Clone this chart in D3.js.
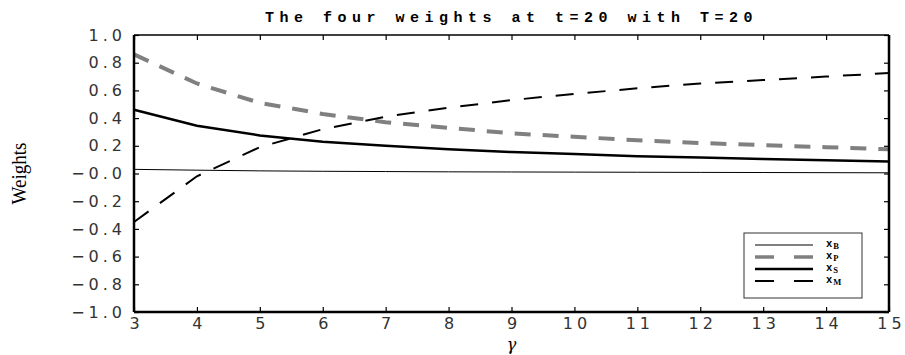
<!DOCTYPE html>
<html>
<head>
<meta charset="utf-8">
<script src="https://cdn.jsdelivr.net/npm/d3@7"></script>
<style>
  body { margin: 0; background: #fff; }
  .tick text { font-family: "DejaVu Sans", sans-serif; font-size: 16px; fill: #333; letter-spacing: 4px; }
</style>
</head>
<body>
<svg id="chart" width="905" height="355"></svg>
<script>
// gamma values along the x axis
const gammas = [3, 4, 5, 6, 7, 8, 9, 10, 11, 12, 13, 14, 15];

// weights
const xB = [0.03, 0.024, 0.019, 0.016, 0.014, 0.012, 0.011, 0.010, 0.009, 0.008, 0.007, 0.006, 0.005];
const xP = [0.86, 0.65, 0.51, 0.43, 0.37, 0.33, 0.29, 0.265, 0.24, 0.22, 0.205, 0.19, 0.175];
const xS = [0.46, 0.345, 0.275, 0.23, 0.20, 0.175, 0.155, 0.14, 0.125, 0.115, 0.105, 0.095, 0.087];
const xM = [-0.35, -0.02, 0.19, 0.32, 0.41, 0.475, 0.53, 0.575, 0.615, 0.65, 0.675, 0.70, 0.725];

const yTicks = [1.0, 0.8, 0.6, 0.4, 0.2, 0.0, -0.2, -0.4, -0.6, -0.8, -1.0];

const series = [
  { name: "B", values: xB, color: "#000", width: 1, dash: null },
  { name: "P", values: xP, color: "#808080", width: 4, dash: "16,12" },
  { name: "S", values: xS, color: "#000", width: 2.5, dash: null },
  { name: "M", values: xM, color: "#000", width: 2, dash: "18,14" }
];

const margin = {top: 35, right: 16, bottom: 43, left: 134};
const width = 905 - margin.left - margin.right;
const height = 355 - margin.top - margin.bottom;

const svg = d3.select("#chart");
const g = svg.append("g").attr("transform", `translate(${margin.left},${margin.top})`);

const x = d3.scaleLinear().domain([3, 15]).range([0, width]);
const y = d3.scaleLinear().domain([-1, 1]).range([height, 0]);

// the zero tick carries a minus sign in the original
const fmtY = d => (d <= 0 ? "\u2212" : "") + Math.abs(d).toFixed(1);

g.append("g")
  .attr("transform", `translate(0,${height})`)
  .call(d3.axisBottom(x).tickValues(gammas).tickSize(-5).tickPadding(6).tickFormat(d3.format("d")))
  .call(a => a.select(".domain").remove())
  .call(a => a.selectAll(".tick line").attr("stroke", "#000").attr("stroke-width", 1.2))
  .call(a => a.selectAll(".tick text").attr("dx", 2));

g.append("g")
  .call(d3.axisTop(x).tickValues(gammas).tickSize(-5).tickFormat(""))
  .call(a => a.select(".domain").remove())
  .call(a => a.selectAll(".tick line").attr("stroke", "#000").attr("stroke-width", 1.2));

g.append("g")
  .call(d3.axisLeft(y).tickValues(yTicks).tickSize(-5).tickPadding(8).tickFormat(fmtY))
  .call(a => a.select(".domain").remove())
  .call(a => a.selectAll(".tick line").attr("stroke", "#000").attr("stroke-width", 1.2));

g.append("g")
  .attr("transform", `translate(${width},0)`)
  .call(d3.axisRight(y).tickValues(yTicks).tickSize(-5).tickFormat(""))
  .call(a => a.select(".domain").remove())
  .call(a => a.selectAll(".tick line").attr("stroke", "#000").attr("stroke-width", 1.2));

// lines
const line = d3.line().x((d, i) => x(gammas[i])).y(d => y(d));
series.forEach(s => {
  g.append("path")
    .datum(s.values)
    .attr("fill", "none")
    .attr("stroke", s.color)
    .attr("stroke-width", s.width)
    .attr("stroke-dasharray", s.dash)
    .attr("d", line);
});

// frame
g.append("line").attr("x1", 0).attr("x2", width).attr("y1", 0).attr("y2", 0).attr("stroke", "#000").attr("stroke-width", 1.5);
g.append("line").attr("x1", 0).attr("x2", width).attr("y1", height).attr("y2", height).attr("stroke", "#000").attr("stroke-width", 2.5);
g.append("line").attr("x1", 0).attr("x2", 0).attr("y1", 0).attr("y2", height).attr("stroke", "#000").attr("stroke-width", 2.5);
g.append("line").attr("x1", width).attr("x2", width).attr("y1", 0).attr("y2", height).attr("stroke", "#000").attr("stroke-width", 2.5);

// legend
const lg = svg.append("g").attr("transform", "translate(744,233)");
lg.append("rect").attr("width", 118).attr("height", 65).attr("fill", "#fff").attr("stroke", "#333").attr("stroke-width", 1);
series.forEach((s, i) => {
  const yy = 12 + i * 12;
  lg.append("line")
    .attr("x1", 11).attr("x2", 69).attr("y1", yy).attr("y2", yy)
    .attr("stroke", s.color)
    .attr("stroke-width", s.width === 4 ? 3.5 : s.width)
    .attr("stroke-dasharray", s.dash ? "19,20" : null);
  const t = lg.append("text").attr("x", 82).attr("y", yy + 2)
    .attr("font-family", "Liberation Mono, monospace").attr("font-size", 10.5).attr("font-weight", "bold");
  t.append("tspan").text("x");
  t.append("tspan").attr("font-size", 8.5).attr("dy", 2).attr("dx", 1).attr("font-family", "Liberation Serif, serif").text(s.name);
});

// title and axis labels
svg.append("text")
  .attr("x", margin.left + width / 2).attr("y", 22)
  .attr("text-anchor", "middle")
  .attr("font-family", "Liberation Mono, monospace")
  .attr("font-size", 15).attr("font-weight", "bold")
  .attr("letter-spacing", 5.5)
  .text("The four weights at t=20 with T=20");

svg.append("text")
  .attr("x", margin.left + width / 2).attr("y", 350)
  .attr("text-anchor", "middle")
  .attr("font-family", "DejaVu Serif, serif")
  .attr("font-style", "italic")
  .attr("font-size", 16)
  .text("\u03b3");

svg.append("text")
  .attr("transform", `translate(26,${margin.top + height / 2}) rotate(-90)`)
  .attr("text-anchor", "middle")
  .attr("font-family", "Liberation Serif, serif")
  .attr("font-size", 22)
  .attr("textLength", 62)
  .attr("lengthAdjust", "spacingAndGlyphs")
  .text("Weights");
</script>
</body>
</html>
